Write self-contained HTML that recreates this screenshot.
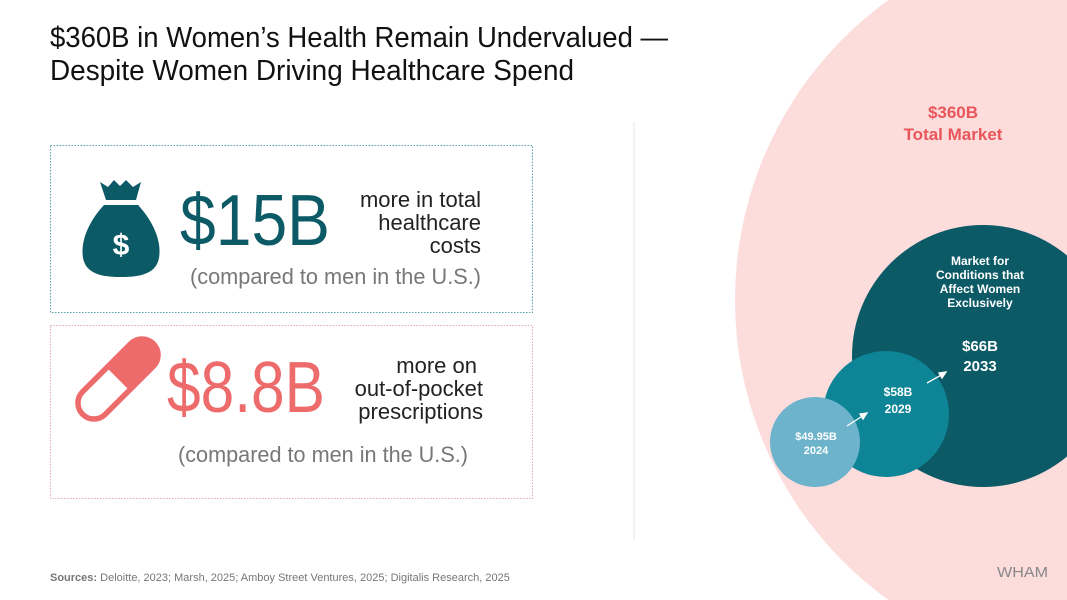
<!DOCTYPE html>
<html><head><meta charset="utf-8"><style>
html,body{margin:0;padding:0;background:#fff;width:1067px;height:600px;overflow:hidden;}
svg{display:block;font-family:"Liberation Sans",sans-serif;}
</style></head><body>
<svg width="1067" height="600" viewBox="0 0 1067 600" xmlns="http://www.w3.org/2000/svg">
<rect width="1067" height="600" fill="#fff"/>
<circle cx="1105" cy="300" r="370" fill="#fddcdc"/>
<circle cx="983" cy="356" r="131" fill="#0d5a67"/>
<circle cx="886" cy="414" r="63" fill="#0d8597"/>
<circle cx="815" cy="442" r="45" fill="#6cb3cb"/>
<line x1="634" y1="122" x2="634" y2="540" stroke="#e6e6e6" stroke-width="1"/>
<text x="50" y="47" font-size="29" fill="#111" textLength="618" lengthAdjust="spacingAndGlyphs">$360B in Women’s Health Remain Undervalued —</text>
<text x="50" y="80" font-size="29" fill="#111" textLength="524" lengthAdjust="spacingAndGlyphs">Despite Women Driving Healthcare Spend</text>
<rect x="50.5" y="145.5" width="482" height="167" fill="none" stroke="#5aa3a8" stroke-width="1" stroke-dasharray="1.5 1.5"/>
<rect x="50.5" y="325.5" width="482" height="173" fill="none" stroke="#e3a9a9" stroke-width="1" stroke-dasharray="1.5 1.5"/>
<!-- money bag -->
<path d="M100 182 L108 187 L114 180 L120 186 L126 180 L133 187 L141 182 L136 200 L106 200 Z" fill="#0d5a67"/>
<path d="M104 205 L138 205 C152 220 162 240 159 258 C156 274 140 277 121 277 C102 277 86 274 83 258 C80 240 90 220 104 205 Z" fill="#0d5a67"/>
<text x="121" y="255" font-size="30" font-weight="bold" fill="#fff" text-anchor="middle">$</text>
<!-- pill -->
<g transform="translate(118,379) rotate(-45)">
<rect x="-50" y="-16" width="100" height="32" rx="16" fill="#fff" stroke="#ee6b6b" stroke-width="5.5"/>
<path d="M0 -16 L34 -16 A16 16 0 0 1 34 16 L0 16 Z" fill="#ee6b6b"/>
</g>
<text x="180" y="245" font-size="72" fill="#0d5a67" textLength="150" lengthAdjust="spacingAndGlyphs">$15B</text>
<g font-size="22" fill="#222" text-anchor="end">
<text x="481" y="207">more in total</text>
<text x="481" y="230">healthcare</text>
<text x="481" y="253">costs</text>
<text x="477" y="373">more on</text>
<text x="483" y="396">out-of-pocket</text>
<text x="483" y="419">prescriptions</text>
</g>
<text x="190" y="284" font-size="22" fill="#777" textLength="291" lengthAdjust="spacingAndGlyphs">(compared to men in the U.S.)</text>
<text x="167" y="412" font-size="72" fill="#ee6b6b" textLength="158" lengthAdjust="spacingAndGlyphs">$8.8B</text>
<text x="178" y="462" font-size="22" fill="#777" textLength="290" lengthAdjust="spacingAndGlyphs">(compared to men in the U.S.)</text>
<g font-weight="bold" text-anchor="middle">
<text x="953" y="118" font-size="17" fill="#e8565a">$360B</text>
<text x="953" y="140" font-size="17" fill="#e8565a">Total Market</text>
<g font-size="12" fill="#fff">
<text x="980" y="265">Market for</text>
<text x="980" y="279">Conditions that</text>
<text x="980" y="293">Affect Women</text>
<text x="980" y="307">Exclusively</text>
</g>
<text x="980" y="351" font-size="15" fill="#fff">$66B</text>
<text x="980" y="371" font-size="15" fill="#fff">2033</text>
<text x="898" y="396" font-size="12" fill="#fff">$58B</text>
<text x="898" y="413" font-size="12" fill="#fff">2029</text>
<text x="816" y="440" font-size="11" fill="#fff">$49.95B</text>
<text x="816" y="454" font-size="11" fill="#fff">2024</text>
</g>
<g stroke="#fff" stroke-width="1.3" fill="#fff">
<line x1="847" y1="426" x2="864" y2="415"/>
<path d="M867 413 L860 414 L863 419 Z"/>
<line x1="927" y1="383" x2="943" y2="374"/>
<path d="M946 372 L939 373 L942 378 Z"/>
</g>
<text x="50" y="581" font-size="11" fill="#777"><tspan font-weight="bold">Sources:</tspan> Deloitte, 2023; Marsh, 2025; Amboy Street Ventures, 2025; Digitalis Research, 2025</text>
<text x="997" y="577" font-size="15" fill="#888" textLength="51" lengthAdjust="spacingAndGlyphs">WHAM</text>
</svg>
</body></html>
